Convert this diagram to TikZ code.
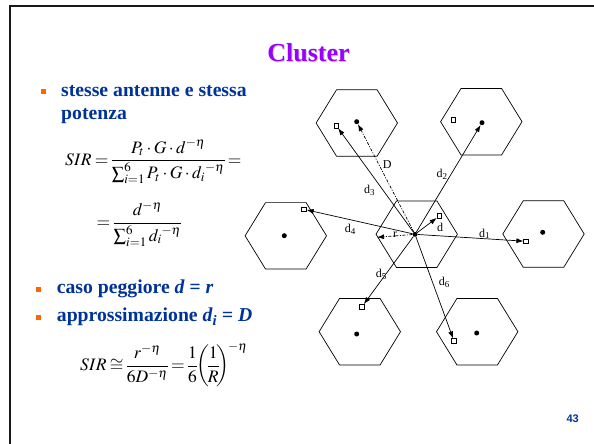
\documentclass[tikz,border=0pt]{standalone}
\usepackage{amsmath}
\usepackage{mathptmx}
\usepackage{fontspec}
\setmainfont{Liberation Serif}
\newfontfamily\numfont{Liberation Sans}
\usetikzlibrary{arrows.meta,positioning}
\definecolor{slideblue}{RGB}{0,51,153}
\definecolor{bulletorange}{RGB}{255,102,0}
\definecolor{titleviolet}{RGB}{153,0,255}
\newcommand\tightmath{\medmuskip=2.5mu\relax\thickmuskip=3.5mu\relax\thinmuskip=2mu\relax\nulldelimiterspace=0pt\relax}

\tikzset{
  hexa/.style={draw=black,line width=0.7pt,line join=miter},
  bs/.style={circle,fill=black,inner sep=0pt,minimum size=5pt},
  ms/.style={draw=black,fill=white,line width=0.6pt,inner sep=0pt,minimum size=4.6pt},
  link/.style={line width=0.7pt,-{Latex[length=7pt,width=5pt]}},
  dashlink/.style={link,dash pattern=on 3pt off 1.5pt on 1pt off 1.5pt},
  lbl/.style={inner sep=0pt,font=\fontsize{12}{14}\selectfont},
  bulletbox/.style={fill=bulletorange,inner sep=0pt,minimum size=5pt},
  item/.style={anchor=base west,inner sep=0pt,text=slideblue,font=\fontsize{19.7}{23.3}\selectfont\bfseries},
  formula/.style={anchor=base west,inner sep=0pt,font=\fontsize{17.5}{21}\selectfont\tightmath}
}

\begin{document}
\begin{tikzpicture}[x=1pt,y=-1pt]
\useasboundingbox (0,0) rectangle (594,444);
% slide frame
\draw[line width=2pt,black!90] (10,444) -- (10,6) -- (594,6);

% title
\node[anchor=base,inner sep=0pt,text=black!20,font=\fontsize{26}{30}\selectfont\bfseries] (titleshadow) at (309.5,62.5) {Cluster};
\node[anchor=base,inner sep=0pt,text=titleviolet,font=\fontsize{26}{30}\selectfont\bfseries] (title) at (308.5,61.5) {Cluster};

% left column
\node[bulletbox] (b1) at (43,91.7) {};
\node[item] (t1) at (61,96) {stesse antenne e stessa};
\node[item] (t2) at (61,119.3) {potenza};
\node[formula] (eq1) at (65,165) {$SIR=\dfrac{P_t\cdot G\cdot d^{-\eta}}{\sum_{i=1}^{6}P_t\cdot G\cdot {d_i}^{-\eta}}=$};
\node[formula] (eq2) at (96.5,227.5) {$=\dfrac{d^{-\eta}}{\sum_{i=1}^{6}{d_i}^{-\eta}}$};
\node[bulletbox] (b2) at (38.3,289.5) {};
\node[item] (t3) at (56.7,293.3) {caso peggiore \textit{d = r}};
\node[bulletbox] (b3) at (38.3,317.5) {};
\node[item] (t4) at (56.7,321.7) {approssimazione \textit{d\textsubscript{i} = D}};
\node[formula] (eq3) at (80,370.5) {$SIR\cong\dfrac{r^{-\eta}}{6D^{-\eta}}=\dfrac{1}{6}\!\left(\!\dfrac{1}{R}\!\right)^{\!-\eta}$};

% hexagonal cells
\foreach \n/\x/\y in {c/416.7/234.2,h1/543.5/234,h2/481.3/121.7,h3/356.8/123,h4/285.8/235.8,h5/359.8/331.7,h6/477.2/331.7}{
  \coordinate (\n) at (\x,\y);
  \draw[hexa] (\x-40.7,\y) -- (\x-20.3,\y-33.2) -- (\x+20.3,\y-33.2) -- (\x+40.7,\y) -- (\x+20.3,\y+33.2) -- (\x-20.3,\y+33.2) -- cycle;
}

% base stations
\foreach \n/\x/\y in {c/415/234.3,1/542.7/232.3,2/482/122.7,3/356.7/121.7,4/284.3/235.7,5/356.7/334,6/476.7/333}{
  \node[bs] (bs\n) at (\x,\y) {};
}

% mobiles
\foreach \n/\x/\y in {0/439.3/216,1/526/241.3,2/453.3/119.7,3/336.3/125.7,4/304/209.3,5/362/306.7,6/454/341}{
  \node[ms] (ms\n) at (\x,\y) {};
}
\coordinate (rv) at (377,237.3);

% labels
\node[lbl] (lD) at (387.3,164.7) {D};
\node[lbl] (l2) at (442,174) {d\textsubscript{2}};
\node[lbl] (l3) at (369.7,190) {d\textsubscript{3}};
\node[lbl] (l4) at (350.3,229.2) {d\textsubscript{4}};
\node[lbl] (ld) at (440,227.2) {d};
\node[lbl] (lr) at (395,234.5) {r};
\node[lbl] (l1) at (484.7,233.8) {d\textsubscript{1}};
\node[lbl] (l5) at (381.3,274) {d\textsubscript{5}};
\node[lbl] (l6) at (444.3,282.5) {d\textsubscript{6}};

% distances
\draw[link] (bsc) -- (ms0);
\draw[link] (bsc) -- (ms1);
\draw[link] (bsc) -- (bs2);
\draw[link] (bsc) -- (ms3);
\draw[dashlink] (bsc) -- (bs3);
\draw[link] (bsc) -- (ms4);
\draw[link] (bsc) -- (ms5);
\draw[link] (bsc) -- (ms6);
\draw[dashlink] (bsc) -- (rv);

% slide number
\node[anchor=base,inner sep=0pt,text=slideblue,font=\numfont\fontsize{11}{13}\selectfont\bfseries] (pagenum) at (572.7,422.7) {43};
\end{tikzpicture}
\end{document}
